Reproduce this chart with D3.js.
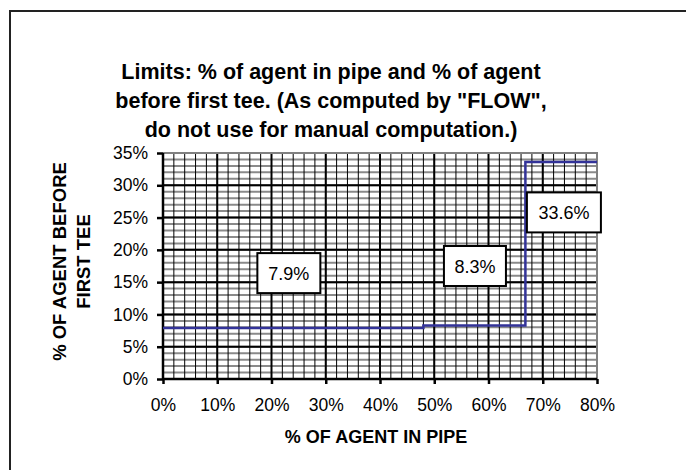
<!DOCTYPE html>
<html>
<head>
<meta charset="utf-8">
<script src="https://cdn.jsdelivr.net/npm/d3@7"></script>
<style>
  html, body { margin: 0; padding: 0; background: #fff; }
  svg { display: block; }
  text { font-family: "Liberation Sans", Arial, sans-serif; fill: #000; }
</style>
</head>
<body>
<script>
// Step limit: fraction of agent before first tee, by fraction of agent in pipe
const pipeShare = [0, 0.48, 0.668, 0.80];
const teeShare = [0.079, 0.083, 0.336, 0.336];

// Value callouts placed in data space
const calloutText = ["7.9%", "8.3%", "33.6%"];
const calloutX = [0.232, 0.575, 0.739];
const calloutY = [0.164, 0.175, 0.258];
const calloutW = [63, 62, 74];

const xTicks = [0, 0.1, 0.2, 0.3, 0.4, 0.5, 0.6, 0.7, 0.8];
const yTicks = [0, 0.05, 0.1, 0.15, 0.2, 0.25, 0.3, 0.35];

const titleLines = [
  "Limits: % of agent in pipe and % of agent",
  "before first tee. (As computed by \"FLOW\",",
  "do not use for manual computation.)"
];
const xTitle = "% OF AGENT IN PIPE";
const yTitleLines = ["% OF AGENT BEFORE", "FIRST TEE"];

const W = 686, H = 470;
const svg = d3.select("body").append("svg").attr("width", W).attr("height", H);

// Outer frame (runs off the right and bottom edges)
svg.append("rect").attr("x", 10).attr("y", 11).attr("width", 700).attr("height", 500)
  .attr("fill", "#fff").attr("stroke", "#222").attr("stroke-width", 2);

const x = d3.scaleLinear().domain([0, 0.8]).range([163, 597]);
const y = d3.scaleLinear().domain([0, 0.35]).range([379, 153]);
const pct = d3.format(".0%");

// Title
svg.append("g").selectAll("text").data(titleLines).join("text")
  .attr("x", 331).attr("y", (d, i) => 79 + i * 29)
  .attr("text-anchor", "middle").attr("font-size", 21.5).attr("font-weight", "bold")
  .text(d => d);

// Grid
const grid = svg.append("g");
const xMinor = d3.range(0, 0.8001, 0.02);
const yMinor = d3.range(0, 0.3501, 0.01);
grid.selectAll(".hmin").data(yMinor).join("line")
  .attr("x1", x(0)).attr("x2", x(0.8))
  .attr("y1", d => y(d)).attr("y2", d => y(d))
  .attr("stroke", "#8a8a8a").attr("stroke-width", 2);
grid.selectAll(".vmin").data(xMinor).join("line")
  .attr("y1", y(0)).attr("y2", y(0.35))
  .attr("x1", d => x(d)).attr("x2", d => x(d))
  .attr("stroke", "#000").attr("stroke-width", 1);
grid.selectAll(".hmaj").data(yTicks.slice(1, -1)).join("line")
  .attr("x1", x(0)).attr("x2", x(0.8))
  .attr("y1", d => y(d)).attr("y2", d => y(d))
  .attr("stroke", "#000").attr("stroke-width", 2);
grid.selectAll(".vmaj").data(xTicks.slice(1, -1)).join("line")
  .attr("y1", y(0)).attr("y2", y(0.35))
  .attr("x1", d => x(d)).attr("x2", d => x(d))
  .attr("stroke", "#000").attr("stroke-width", 2);
// Plot border top/right
grid.append("path")
  .attr("d", `M${x(0)},${y(0.35)}H${x(0.8)}V${y(0)}`)
  .attr("fill", "none").attr("stroke", "#808080").attr("stroke-width", 2);

// Axes
const xAxis = svg.append("g").attr("transform", `translate(0,${y(0)})`)
  .call(d3.axisBottom(x).tickValues(xTicks).tickFormat(pct).tickSize(5).tickPadding(15));
const yAxis = svg.append("g").attr("transform", `translate(${x(0)},0)`)
  .call(d3.axisLeft(y).tickValues(yTicks).tickFormat(pct).tickSize(6).tickPadding(9));
[xAxis, yAxis].forEach(g => {
  g.select(".domain").attr("stroke", "#000").attr("stroke-width", 2.5);
  g.selectAll(".tick line").attr("stroke", "#000").attr("stroke-width", 2.5);
  g.selectAll(".tick text").attr("font-size", 17.5).attr("font-family", "Liberation Sans, Arial, sans-serif").attr("fill", "#000");
});
xAxis.select(".domain").attr("d", `M${x(0)},0H${x(0.8)}`);
yAxis.select(".domain").attr("d", `M0,${y(0)}V${y(0.35)}`);

// Axis titles
svg.append("text").attr("x", 376).attr("y", 443)
  .attr("text-anchor", "middle").attr("font-size", 18).attr("font-weight", "bold")
  .text(xTitle);
svg.append("g").attr("transform", "translate(0,261.5) rotate(-90)")
  .selectAll("text").data(yTitleLines).join("text")
  .attr("x", 0).attr("y", (d, i) => 65.5 + i * 24)
  .attr("text-anchor", "middle").attr("font-size", 18.5).attr("font-weight", "bold")
  .text(d => d);

// Limit line
const pts = pipeShare.map((p, i) => [p, teeShare[i]]);
svg.append("path").datum(pts)
  .attr("d", d3.line().x(d => x(d[0])).y(d => y(d[1])).curve(d3.curveStepAfter))
  .attr("fill", "none").attr("stroke", "#333399").attr("stroke-width", 2.5);

// Callouts
const co = svg.append("g").selectAll("g").data(calloutText).join("g")
  .attr("transform", (d, i) => `translate(${x(calloutX[i])},${y(calloutY[i])})`);
co.append("rect")
  .attr("x", (d, i) => -calloutW[i] / 2).attr("y", -20)
  .attr("width", (d, i) => calloutW[i]).attr("height", 40)
  .attr("fill", "#fff").attr("stroke", "#000").attr("stroke-width", 2);
co.append("text").attr("text-anchor", "middle").attr("dy", 6.5)
  .attr("font-size", 18).text(d => d);
</script>
</body>
</html>
